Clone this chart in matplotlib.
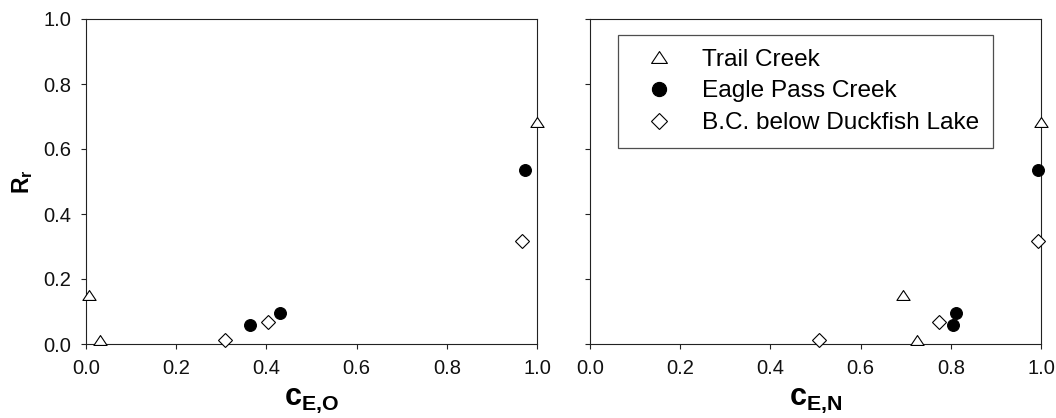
import matplotlib
matplotlib.use("Agg")
import matplotlib.pyplot as plt
from matplotlib.path import Path

plt.rcParams["font.family"] = ["Liberation Sans", "DejaVu Sans"]
plt.rcParams["mathtext.fontset"] = "custom"
plt.rcParams["mathtext.rm"] = "Liberation Sans"
plt.rcParams["mathtext.bf"] = "Liberation Sans:bold"

# ---------------------------------------------------------------------------
# Data
# ---------------------------------------------------------------------------
sites = ["Trail Creek", "Eagle Pass Creek", "B.C. below Duckfish Lake"]

# Rr values (shared by both panels)
rr_trail = [0.152, 0.012, 0.683]
rr_eagle = [0.057, 0.096, 0.535]
rr_duck = [0.012, 0.068, 0.316]

# c_E,O (left panel)
ceo_trail = [0.007, 0.032, 1.0]
ceo_eagle = [0.364, 0.430, 0.973]
ceo_duck = [0.308, 0.403, 0.967]

# c_E,N (right panel)
cen_trail = [0.693, 0.726, 1.0]
cen_eagle = [0.804, 0.812, 0.993]
cen_duck = [0.508, 0.774, 0.993]

xticks = [0.0, 0.2, 0.4, 0.6, 0.8, 1.0]
yticks = [0.0, 0.2, 0.4, 0.6, 0.8, 1.0]

# squat open triangle like the original
tri = Path([(-1, -0.75), (1, -0.75), (0, 0.75), (-1, -0.75)],
           [Path.MOVETO, Path.LINETO, Path.LINETO, Path.CLOSEPOLY])

styles = [
    dict(marker=tri, ms=9.5, mfc="white", mec="black", mew=0.8),
    dict(marker="o", ms=8.5, mfc="black", mec="black", mew=0.8),
    dict(marker="D", ms=7, mfc="white", mec="black", mew=0.8),
]

W, H = 1056, 418
fig = plt.figure(figsize=(W / 100, H / 100), dpi=100)
ax1 = fig.add_axes([86 / W, 1 - 344 / H, 451 / W, 325 / H])
ax2 = fig.add_axes([590 / W, 1 - 344 / H, 451 / W, 325 / H])

panels = [
    (ax1, [ceo_trail, ceo_eagle, ceo_duck], r"$\mathbf{c_{E{,}O}}$"),
    (ax2, [cen_trail, cen_eagle, cen_duck], r"$\mathbf{c_{E{,}N}}$"),
]

for ax, xs_list, xlab in panels:
    for xs, ys, name, st in zip(xs_list, [rr_trail, rr_eagle, rr_duck], sites, styles):
        ax.plot(xs, ys, ls="none", label=name, clip_on=False, zorder=3, **st)
    ax.set_xlim(0, 1)
    ax.set_ylim(0, 1)
    ax.set_xticks(xticks)
    ax.set_xticklabels([f"{v:.1f}" for v in xticks])
    ax.set_yticks(yticks)
    ax.tick_params(direction="out", length=3.6, width=0.8, color="#222222",
                   labelsize=14.5, pad=7, labelcolor="#111111")
    for sp in ax.spines.values():
        sp.set_linewidth(0.8)
        sp.set_color("#222222")
    ax.set_xlabel(xlab, fontsize=22, labelpad=5)

ax1.set_yticklabels([f"{v:.1f}" for v in yticks])
ax2.set_yticklabels([])
ax1.set_ylabel(r"$\mathbf{R_r}$", fontsize=16.5, labelpad=6)

leg = ax2.legend(loc="upper left", bbox_to_anchor=(618 / W, 1 - 35 / H),
                 bbox_transform=fig.transFigure, borderaxespad=0,
                 fontsize=17.6, frameon=True, fancybox=False, shadow=False,
                 borderpad=0.55, handlelength=2.26, handletextpad=0.63,
                 labelspacing=0.4, markerscale=1.2)
leg.get_frame().set_edgecolor("#222222")
leg.get_frame().set_linewidth(0.9)

fig.savefig("out.png", dpi=100)
